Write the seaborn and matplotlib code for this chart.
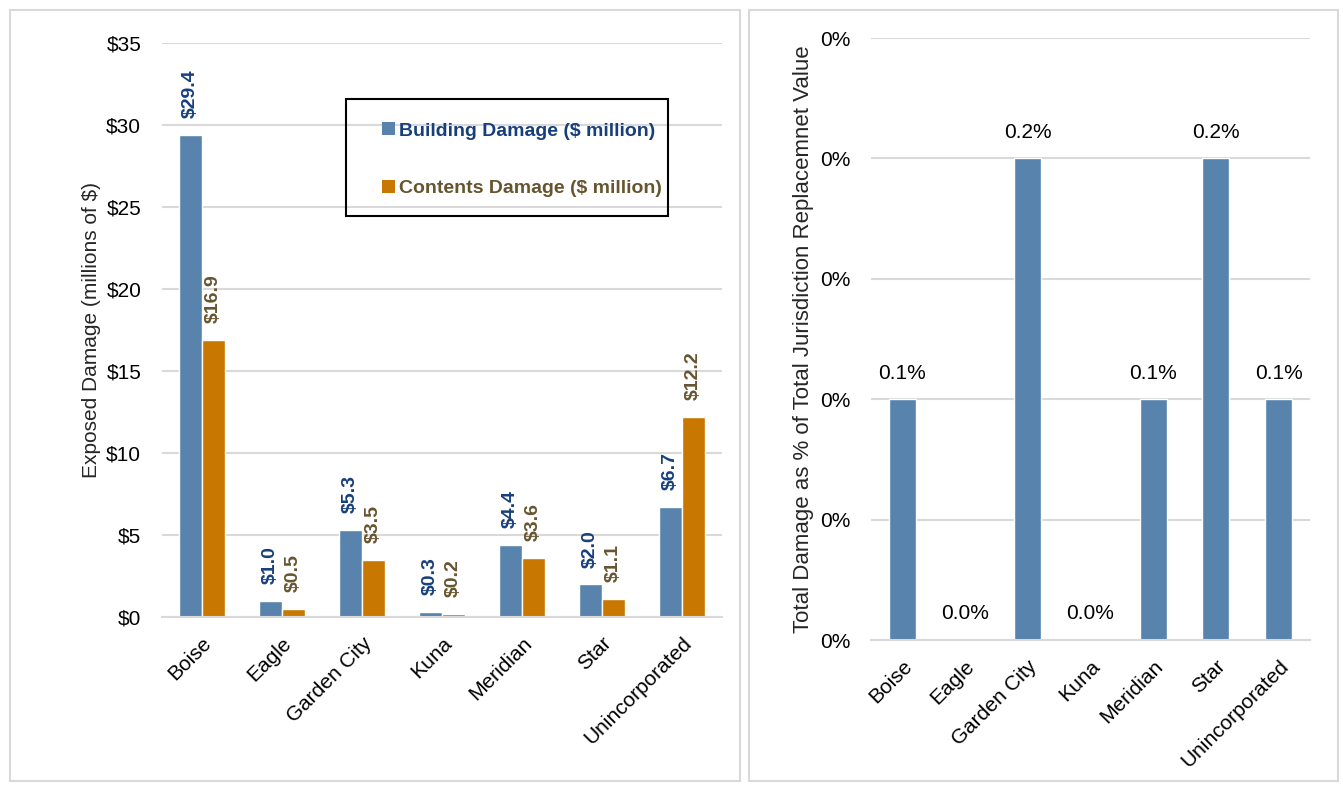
import matplotlib
matplotlib.use("Agg")
import matplotlib.pyplot as plt
from matplotlib.patches import Patch, Rectangle
from matplotlib.ticker import FuncFormatter, PercentFormatter
import pandas as pd
import seaborn as sns

# Exposed damage by jurisdiction
cities = ["Boise", "Eagle", "Garden City", "Kuna", "Meridian", "Star", "Unincorporated"]
building_damage = [29.4, 1.0, 5.3, 0.3, 4.4, 2.0, 6.7]
contents_damage = [16.9, 0.5, 3.5, 0.2, 3.6, 1.1, 12.2]
# Total damage as a share of jurisdiction replacement value (percent)
damage_pct = [0.1, 0.0, 0.2, 0.0, 0.1, 0.2, 0.1]

series_names = ["Building Damage ($ million)", "Contents Damage ($ million)"]
left_yticks = [0, 5, 10, 15, 20, 25, 30, 35]
right_yticks = [0.0, 0.05, 0.10, 0.15, 0.20, 0.25]

BLUE = "#5783AD"
ORANGE = "#C87800"
BLUE_TXT = "#173F7C"
BROWN_TXT = "#66552F"
GRID = "#D9D9D9"

sns.set_theme(style="white")
plt.rcParams["font.family"] = ["Liberation Sans Narrow", "Liberation Sans", "DejaVu Sans"]
plt.rcParams["font.size"] = 14

W, H = 1343, 786
fig = plt.figure(figsize=(W / 100, H / 100), dpi=100)


def fig_rect(x0, y0, x1, y1):
    return [x0 / W, 1 - y1 / H, (x1 - x0) / W, (y1 - y0) / H]


# panel frames
for x0, x1 in [(10, 740), (749, 1338)]:
    l, b, w, h = fig_rect(x0, 10, x1, 781)
    fig.patches.append(Rectangle((l, b), w, h, transform=fig.transFigure,
                                 fill=False, edgecolor=GRID, lw=1.5))


def style_axis(ax):
    ax.grid(axis="y", color=GRID, lw=1.5)
    ax.set_axisbelow(True)
    for s in ["top", "right", "left"]:
        ax.spines[s].set_visible(False)
    ax.spines["bottom"].set_color(GRID)
    ax.spines["bottom"].set_linewidth(1.5)
    ax.tick_params(axis="y", length=0, labelsize=15, colors="black", pad=15)
    ax.tick_params(axis="x", length=0, labelsize=15, colors="black", pad=12)
    ax.set_xlabel("")
    for lab in ax.get_xticklabels():
        lab.set_rotation(45)
        lab.set_ha("right")
        lab.set_rotation_mode("anchor")


# ---- left panel: grouped bars ----
ax1 = fig.add_axes(fig_rect(162, 43, 722, 617))
df = pd.DataFrame({
    "city": cities * 2,
    "value": building_damage + contents_damage,
    "series": [series_names[0]] * len(cities) + [series_names[1]] * len(cities),
})
sns.barplot(data=df, x="city", y="value", hue="series", palette=[BLUE, ORANGE],
            width=0.58, ax=ax1, legend=False, saturation=1)
ax1.set_ylim(0, 35)
ax1.set_yticks(left_yticks)
ax1.yaxis.set_major_formatter(FuncFormatter(lambda v, p: f"${v:.0f}"))
ax1.set_xlim(-0.5, len(cities) - 0.5)
style_axis(ax1)
ax1.set_ylabel("Exposed Damage (millions of $)", fontsize=15, labelpad=4)

for cont, col in zip(ax1.containers, [BLUE_TXT, BROWN_TXT]):
    ax1.bar_label(cont, fmt="${:.1f}", rotation=90, padding=12, color=col,
                  fontsize=14, fontweight="bold")

# legend box with the entries set inside it
ax1.add_patch(Rectangle((0.3286, 0.6986), 0.575, 0.2038, transform=ax1.transAxes,
                        fill=False, edgecolor="black", lw=1.5, zorder=5))
handles = [Patch(facecolor=BLUE, edgecolor="none"), Patch(facecolor=ORANGE, edgecolor="none")]
leg = ax1.legend(handles, series_names, loc="upper left", bbox_to_anchor=(0.3929, 0.8615),
                 frameon=False, handlelength=0.65, handleheight=0.65, handletextpad=0.2,
                 labelspacing=2.05, borderpad=0, borderaxespad=0,
                 prop={"size": 14, "weight": "bold"})
for t, c in zip(leg.get_texts(), [BLUE_TXT, BROWN_TXT]):
    t.set_color(c)

# ---- right panel: share of replacement value ----
ax2 = fig.add_axes(fig_rect(871, 38, 1310, 640))
df2 = pd.DataFrame({"city": cities, "pct": damage_pct})
sns.barplot(data=df2, x="city", y="pct", color=BLUE, width=0.43, ax=ax2, saturation=1)
ax2.set_ylim(0, 0.25)
ax2.set_yticks(right_yticks)
ax2.yaxis.set_major_formatter(PercentFormatter(xmax=100, decimals=0))
ax2.set_xlim(-0.5, len(cities) - 0.5)
style_axis(ax2)
ax2.set_ylabel("Total Damage as % of Total Jurisdiction Replacemnet Value", fontsize=16, labelpad=4)
for cont in ax2.containers:
    ax2.bar_label(cont, fmt="{:.1f}%", padding=12, color="black", fontsize=15)

fig.savefig("out.png", dpi=100, facecolor="white")
